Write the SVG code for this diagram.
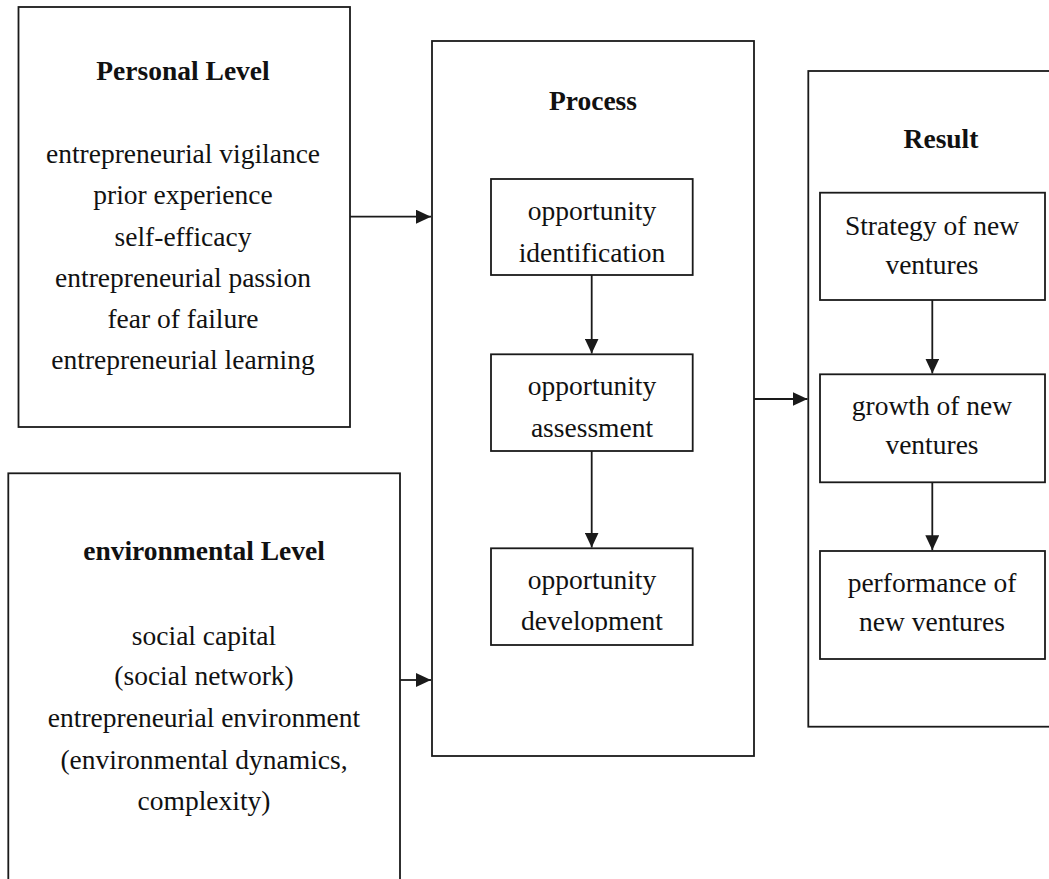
<svg xmlns="http://www.w3.org/2000/svg" width="1049" height="879" viewBox="0 0 1049 879">
<style>
.box{fill:none;stroke:#1a1a1a;stroke-width:1.8}
.t{font-family:"Liberation Serif","Times New Roman",serif;font-size:27.5px;fill:#111;text-anchor:middle}
.b{font-weight:bold}
.c{stroke:#1a1a1a;stroke-width:1.8;fill:none;marker-end:url(#ah)}
</style>
<defs>
<marker id="ah" markerUnits="userSpaceOnUse" markerWidth="15" markerHeight="14" refX="15" refY="7" orient="auto">
<path d="M0,0 L15,7 L0,14 Z" fill="#1a1a1a"/>
</marker>
<clipPath id="devclip"><rect x="491" y="548" width="202" height="84"/></clipPath>
</defs>
<rect x="0" y="0" width="1049" height="879" fill="#fff"/>

<g id="personal">
<rect class="box" x="18.5" y="7" width="331.5" height="420"/>
<text class="t b" x="183" y="80">Personal Level</text>
<text class="t" x="183" y="163">entrepreneurial vigilance</text>
<text class="t" x="183" y="204">prior experience</text>
<text class="t" x="183" y="246">self-efficacy</text>
<text class="t" x="183" y="287">entrepreneurial passion</text>
<text class="t" x="183" y="328">fear of failure</text>
<text class="t" x="183" y="369">entrepreneurial learning</text>
</g>

<g id="environmental">
<rect class="box" x="8.3" y="473.3" width="391.7" height="500"/>
<text class="t b" x="204" y="560">environmental Level</text>
<text class="t" x="204" y="645">social capital</text>
<text class="t" x="204" y="685">(social network)</text>
<text class="t" x="204" y="727">entrepreneurial environment</text>
<text class="t" x="204" y="769">(environmental dynamics,</text>
<text class="t" x="204" y="810">complexity)</text>
</g>

<g id="process">
<rect class="box" x="432" y="41" width="322" height="715"/>
<text class="t b" x="593" y="110">Process</text>
</g>

<g id="identification">
<rect class="box" x="491" y="179" width="201.7" height="96"/>
<text class="t" x="592" y="220">opportunity</text>
<text class="t" x="592" y="262">identification</text>
</g>

<g id="assessment">
<rect class="box" x="491" y="354.3" width="201.7" height="96.7"/>
<text class="t" x="592" y="395">opportunity</text>
<text class="t" x="592" y="437">assessment</text>
</g>

<g id="development">
<rect class="box" x="491" y="548.3" width="201.7" height="96.7"/>
<text class="t" x="592" y="588.5">opportunity</text>
<text class="t" x="592" y="630" clip-path="url(#devclip)">development</text>
</g>

<g id="result">
<rect class="box" x="808.3" y="71" width="300" height="655.7"/>
<text class="t b" x="941" y="148">Result</text>
</g>

<g id="strategy">
<rect class="box" x="820" y="192.7" width="225" height="107.3"/>
<text class="t" x="932" y="235">Strategy of new</text>
<text class="t" x="932" y="273.5">ventures</text>
</g>

<g id="growth">
<rect class="box" x="820" y="374.3" width="225" height="108"/>
<text class="t" x="932" y="415">growth of new</text>
<text class="t" x="932" y="453.5">ventures</text>
</g>

<g id="performance">
<rect class="box" x="820" y="551" width="225" height="108"/>
<text class="t" x="932" y="592">performance of</text>
<text class="t" x="932" y="631">new ventures</text>
</g>

<g id="connectors">
<line class="c" x1="350" y1="216.7" x2="431" y2="216.7"/>
<line class="c" x1="400" y1="680" x2="431" y2="680"/>
<line class="c" x1="754" y1="399" x2="807.5" y2="399"/>
<line class="c" x1="591.7" y1="275" x2="591.7" y2="353.5"/>
<line class="c" x1="591.7" y1="451" x2="591.7" y2="547.5"/>
<line class="c" x1="932.3" y1="300" x2="932.3" y2="373.5"/>
<line class="c" x1="932.3" y1="482.3" x2="932.3" y2="550.2"/>
</g>
</svg>
